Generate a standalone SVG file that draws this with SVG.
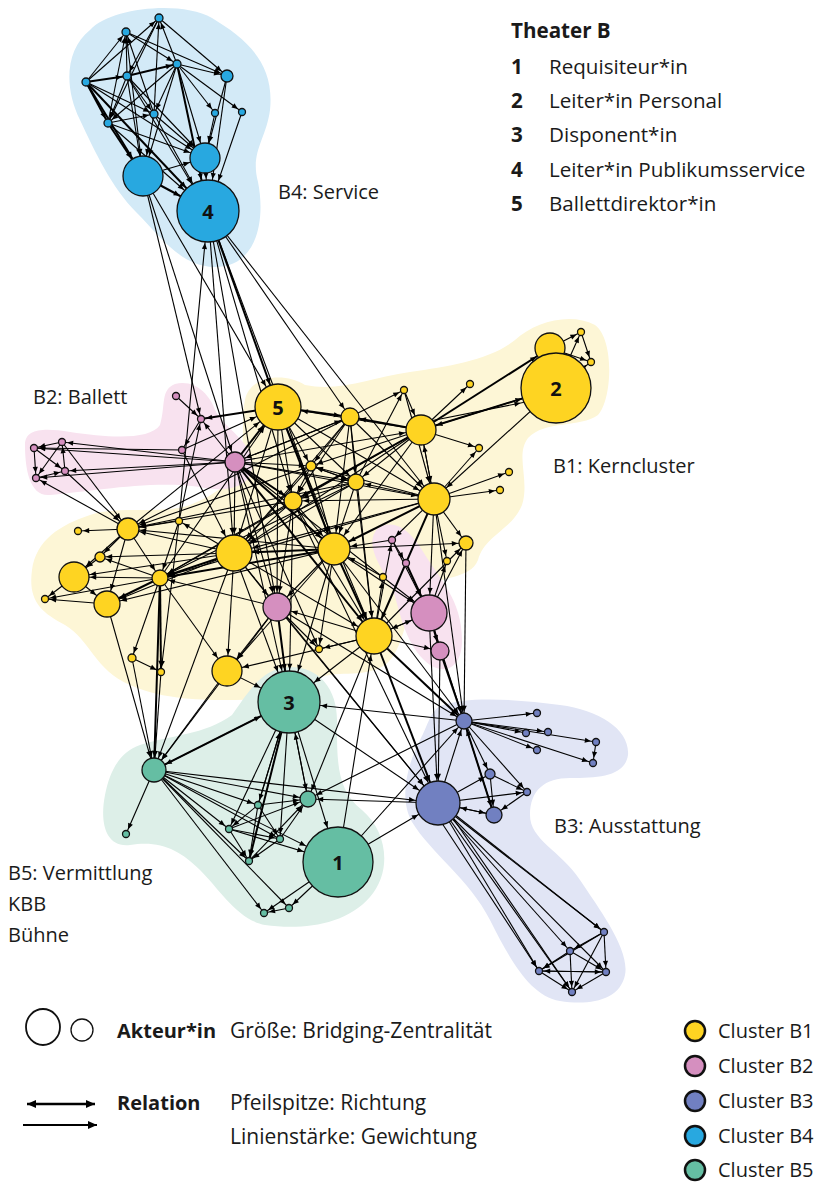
<svg xmlns="http://www.w3.org/2000/svg" width="819" height="1183" viewBox="0 0 819 1183">
<style>
text{font-family:"Open Sans","Liberation Sans",sans-serif;fill:#1a1a1a}
.lb{font-size:20px}
.lt{font-size:20.6px}
.lg{font-size:21px}
.bd{font-weight:bold}
.nl{font-size:20px;font-weight:bold;text-anchor:middle;fill:#111}
#edges line{stroke:#000;stroke-width:1.1}
#edges line.w{stroke-width:2}
circle{stroke:#111;stroke-width:1.3}
.Y{fill:#fed422}.P{fill:#d58fbf}.Q{fill:#7180c1}.B{fill:#28a8e0}.G{fill:#65bea3}
.t4{marker-end:url(#a4)}.t5{marker-end:url(#a5)}.t6{marker-end:url(#a6)}.t7{marker-end:url(#a7)}.t8{marker-end:url(#a8)}.t9{marker-end:url(#a9)}.t10{marker-end:url(#a10)}.t11{marker-end:url(#a11)}.t12{marker-end:url(#a12)}.t13{marker-end:url(#a13)}.t14{marker-end:url(#a14)}.t15{marker-end:url(#a15)}.t16{marker-end:url(#a16)}.t18{marker-end:url(#a18)}.t20{marker-end:url(#a20)}.t22{marker-end:url(#a22)}.t23{marker-end:url(#a23)}.t31{marker-end:url(#a31)}.t35{marker-end:url(#a35)}
marker{overflow:visible}
</style>
<defs>
<marker id="a4" markerUnits="userSpaceOnUse" markerWidth="1" markerHeight="1" refX="5.2" refY="0" orient="auto"><path d="M0,0L-6,-2.6L-6,2.6Z"/></marker>
<marker id="a5" markerUnits="userSpaceOnUse" markerWidth="1" markerHeight="1" refX="6.2" refY="0" orient="auto"><path d="M0,0L-6,-2.6L-6,2.6Z"/></marker>
<marker id="a6" markerUnits="userSpaceOnUse" markerWidth="1" markerHeight="1" refX="7.2" refY="0" orient="auto"><path d="M0,0L-6,-2.6L-6,2.6Z"/></marker>
<marker id="a7" markerUnits="userSpaceOnUse" markerWidth="1" markerHeight="1" refX="8.2" refY="0" orient="auto"><path d="M0,0L-6,-2.6L-6,2.6Z"/></marker>
<marker id="a8" markerUnits="userSpaceOnUse" markerWidth="1" markerHeight="1" refX="9.2" refY="0" orient="auto"><path d="M0,0L-6,-2.6L-6,2.6Z"/></marker>
<marker id="a9" markerUnits="userSpaceOnUse" markerWidth="1" markerHeight="1" refX="10.2" refY="0" orient="auto"><path d="M0,0L-6,-2.6L-6,2.6Z"/></marker>
<marker id="a10" markerUnits="userSpaceOnUse" markerWidth="1" markerHeight="1" refX="11.2" refY="0" orient="auto"><path d="M0,0L-6,-2.6L-6,2.6Z"/></marker>
<marker id="a11" markerUnits="userSpaceOnUse" markerWidth="1" markerHeight="1" refX="12.2" refY="0" orient="auto"><path d="M0,0L-6,-2.6L-6,2.6Z"/></marker>
<marker id="a12" markerUnits="userSpaceOnUse" markerWidth="1" markerHeight="1" refX="13.2" refY="0" orient="auto"><path d="M0,0L-6,-2.6L-6,2.6Z"/></marker>
<marker id="a13" markerUnits="userSpaceOnUse" markerWidth="1" markerHeight="1" refX="14.2" refY="0" orient="auto"><path d="M0,0L-6,-2.6L-6,2.6Z"/></marker>
<marker id="a14" markerUnits="userSpaceOnUse" markerWidth="1" markerHeight="1" refX="15.2" refY="0" orient="auto"><path d="M0,0L-6,-2.6L-6,2.6Z"/></marker>
<marker id="a15" markerUnits="userSpaceOnUse" markerWidth="1" markerHeight="1" refX="16.2" refY="0" orient="auto"><path d="M0,0L-6,-2.6L-6,2.6Z"/></marker>
<marker id="a16" markerUnits="userSpaceOnUse" markerWidth="1" markerHeight="1" refX="17.2" refY="0" orient="auto"><path d="M0,0L-6,-2.6L-6,2.6Z"/></marker>
<marker id="a18" markerUnits="userSpaceOnUse" markerWidth="1" markerHeight="1" refX="19.2" refY="0" orient="auto"><path d="M0,0L-6,-2.6L-6,2.6Z"/></marker>
<marker id="a20" markerUnits="userSpaceOnUse" markerWidth="1" markerHeight="1" refX="21.2" refY="0" orient="auto"><path d="M0,0L-6,-2.6L-6,2.6Z"/></marker>
<marker id="a22" markerUnits="userSpaceOnUse" markerWidth="1" markerHeight="1" refX="23.2" refY="0" orient="auto"><path d="M0,0L-6,-2.6L-6,2.6Z"/></marker>
<marker id="a23" markerUnits="userSpaceOnUse" markerWidth="1" markerHeight="1" refX="24.2" refY="0" orient="auto"><path d="M0,0L-6,-2.6L-6,2.6Z"/></marker>
<marker id="a31" markerUnits="userSpaceOnUse" markerWidth="1" markerHeight="1" refX="32.2" refY="0" orient="auto"><path d="M0,0L-6,-2.6L-6,2.6Z"/></marker>
<marker id="a35" markerUnits="userSpaceOnUse" markerWidth="1" markerHeight="1" refX="36.2" refY="0" orient="auto"><path d="M0,0L-6,-2.6L-6,2.6Z"/></marker>
<marker id="la" markerUnits="userSpaceOnUse" markerWidth="1" markerHeight="1" refX="0" refY="0" orient="auto-start-reverse"><path d="M0,0L-9,-4L-9,4Z"/></marker>
</defs>

<g id="hulls">
<path fill="#d3eaf7" d="M90,30 C110,8 180,0 212,18 C245,38 275,62 270,110 C266,140 250,152 258,182 C266,222 256,268 214,267 C180,266 160,236 136,212 C112,188 95,152 80,120 C64,88 65,50 90,30 Z"/>
<path fill="#fdf6d6" d="M245,400 C250,375 285,372 305,385 C340,392 370,378 410,372 C450,366 490,360 515,340 C535,322 570,312 595,325 C615,340 612,400 598,415 C580,428 545,420 528,438 C515,455 530,480 522,505 C512,530 485,535 478,560 C470,580 440,575 420,590 C405,610 405,650 385,665 C360,680 335,668 315,680 C290,700 260,700 235,700 C200,700 165,700 130,685 C95,670 90,640 65,625 C40,612 28,600 32,570 C36,540 60,525 90,515 C120,505 160,515 190,505 C215,495 240,480 242,450 C244,430 242,412 245,400 Z"/>
<path fill="#f8e2ef" d="M25,445 C25,428 45,428 70,432 C110,438 150,440 160,425 C166,405 160,390 175,384 C195,379 210,395 215,410 C225,430 252,440 252,465 C252,490 222,492 200,487 C150,480 90,492 50,495 C30,497 25,470 25,445 Z"/>
<path fill="#f8e2ef" d="M378,528 C395,518 410,530 422,550 C440,580 462,600 462,640 C462,672 440,676 424,660 C404,640 400,612 393,590 C384,570 362,545 378,528 Z"/>
<path fill="#e1e5f5" d="M440,706 C470,695 520,700 560,705 C600,710 630,730 628,755 C625,776 600,778 570,778 C545,778 530,790 530,815 C530,840 560,850 580,880 C600,910 630,950 625,975 C620,1000 590,1006 560,1001 C530,996 510,960 490,920 C470,880 430,852 412,822 C400,800 405,770 420,740 C428,725 430,712 440,706 Z"/>
<path fill="#ddefe8" d="M140,745 C170,735 205,735 232,715 C250,690 262,668 290,667 C320,667 337,690 337,720 C337,760 336,790 362,810 C388,832 392,872 370,897 C345,926 300,930 265,925 C238,920 220,890 200,870 C180,850 160,840 130,845 C104,848 100,820 105,795 C110,770 120,752 140,745 Z"/>
</g>

<g id="edges">
<line class="t4 w" x1="86" y1="82" x2="127" y2="76"/>
<line class="t4 w" x1="127" y1="76" x2="177" y2="64"/>
<line class="t4" x1="86" y1="82" x2="126" y2="32"/>
<line class="t4" x1="127" y1="76" x2="126" y2="32"/>
<line class="t4" x1="108" y1="123" x2="126" y2="32"/>
<line class="t4" x1="154" y1="114" x2="126" y2="32"/>
<line class="t6" x1="126" y1="32" x2="227" y2="76"/>
<line class="t4" x1="126" y1="32" x2="177" y2="64"/>
<line class="t4" x1="159" y1="18" x2="127" y2="76"/>
<line class="t4" x1="159" y1="18" x2="108" y2="123"/>
<line class="t4" x1="154" y1="114" x2="159" y2="18"/>
<line class="t4" x1="177" y1="64" x2="159" y2="18"/>
<line class="t6" x1="159" y1="18" x2="227" y2="76"/>
<line class="t4" x1="86" y1="82" x2="159" y2="18"/>
<line class="t6" x1="177" y1="64" x2="227" y2="76"/>
<line class="t4" x1="177" y1="64" x2="108" y2="123"/>
<line class="t4" x1="177" y1="64" x2="154" y2="114"/>
<line class="t4" x1="177" y1="64" x2="215" y2="113"/>
<line class="t4" x1="177" y1="64" x2="242" y2="112"/>
<line class="t15" x1="177" y1="64" x2="205" y2="158"/>
<line class="t31 w" x1="177" y1="64" x2="208" y2="211"/>
<line class="t4" x1="127" y1="76" x2="154" y2="114"/>
<line class="t4" x1="127" y1="76" x2="108" y2="123"/>
<line class="t20" x1="127" y1="76" x2="143" y2="176"/>
<line class="t15" x1="127" y1="76" x2="205" y2="158"/>
<line class="t31" x1="127" y1="76" x2="208" y2="211"/>
<line class="t4" x1="86" y1="82" x2="154" y2="114"/>
<line class="t4 w" x1="86" y1="82" x2="108" y2="123"/>
<line class="t20 w" x1="86" y1="82" x2="143" y2="176"/>
<line class="t15" x1="86" y1="82" x2="205" y2="158"/>
<line class="t31 w" x1="86" y1="82" x2="208" y2="211"/>
<line class="t4" x1="108" y1="123" x2="154" y2="114"/>
<line class="t20" x1="154" y1="114" x2="143" y2="176"/>
<line class="t15" x1="154" y1="114" x2="205" y2="158"/>
<line class="t31" x1="154" y1="114" x2="208" y2="211"/>
<line class="t20 w" x1="108" y1="123" x2="143" y2="176"/>
<line class="t31" x1="108" y1="123" x2="208" y2="211"/>
<line class="t15" x1="108" y1="123" x2="205" y2="158"/>
<line class="t15" x1="227" y1="76" x2="205" y2="158"/>
<line class="t31" x1="227" y1="76" x2="208" y2="211"/>
<line class="t31" x1="242" y1="112" x2="208" y2="211"/>
<line class="t15" x1="215" y1="113" x2="205" y2="158"/>
<line class="t20" x1="126" y1="32" x2="143" y2="176"/>
<line class="t15" x1="143" y1="176" x2="205" y2="158"/>
<line class="t31 w" x1="143" y1="176" x2="208" y2="211"/>
<line class="t31" x1="205" y1="158" x2="208" y2="211"/>
<line class="t20" x1="177" y1="64" x2="143" y2="176"/>

<line class="t10" x1="143" y1="176" x2="235" y2="462"/>
<line class="t23" x1="143" y1="176" x2="278" y2="407"/>
<line class="t31" x1="179" y1="521" x2="208" y2="211"/>
<line class="t18" x1="208" y1="211" x2="234" y2="553"/>
<line class="t14" x1="208" y1="211" x2="277" y2="607"/>
<line class="t23 w" x1="208" y1="211" x2="278" y2="407"/>
<line class="t16" x1="208" y1="211" x2="434" y2="499"/>
<line class="t9" x1="208" y1="211" x2="293" y2="501"/>
<line class="t4" x1="143" y1="176" x2="201" y2="419"/>
<line class="t16" x1="208" y1="211" x2="334" y2="549"/>
<line class="t9" x1="208" y1="211" x2="350" y2="417"/>

<line class="t4" x1="62" y1="442" x2="34" y2="448"/>
<line class="t4" x1="34" y1="448" x2="36" y2="478"/>
<line class="t4" x1="36" y1="478" x2="65" y2="471"/>
<line class="t4" x1="65" y1="471" x2="62" y2="442"/>
<line class="t4" x1="62" y1="442" x2="36" y2="478"/>
<line class="t4" x1="34" y1="448" x2="65" y2="471"/>
<line class="t4" x1="235" y1="462" x2="34" y2="448"/>
<line class="t4" x1="235" y1="462" x2="62" y2="442"/>
<line class="t4" x1="235" y1="462" x2="65" y2="471"/>
<line class="t4" x1="235" y1="462" x2="36" y2="478"/>
<line class="t4" x1="182" y1="450" x2="34" y2="448"/>
<line class="t11" x1="62" y1="442" x2="128" y2="529"/>
<line class="t4" x1="128" y1="529" x2="36" y2="478"/>
<line class="t11" x1="65" y1="471" x2="128" y2="529"/>
<line class="t4" x1="176" y1="396" x2="201" y2="419"/>
<line class="t4 w" x1="278" y1="407" x2="201" y2="419"/>
<line class="t23" x1="182" y1="450" x2="278" y2="407"/>
<line class="t4" x1="201" y1="419" x2="182" y2="450"/>
<line class="t4" x1="235" y1="462" x2="201" y2="419"/>
<line class="t23 w" x1="235" y1="462" x2="278" y2="407"/>
<line class="t4" x1="179" y1="521" x2="201" y2="419"/>
<line class="t18" x1="182" y1="450" x2="234" y2="553"/>

<line class="t9 w" x1="278" y1="407" x2="350" y2="417"/>
<line class="t5" x1="278" y1="407" x2="311" y2="466"/>
<line class="t8" x1="278" y1="407" x2="356" y2="482"/>
<line class="t9" x1="278" y1="407" x2="293" y2="501"/>
<line class="t16 w" x1="278" y1="407" x2="334" y2="549"/>
<line class="t18" x1="278" y1="407" x2="234" y2="553"/>
<line class="t18" x1="278" y1="407" x2="374" y2="636"/>
<line class="t16" x1="278" y1="407" x2="434" y2="499"/>
<line class="t23" x1="421" y1="430" x2="278" y2="407"/>
<line class="t14" x1="278" y1="407" x2="277" y2="607"/>
<line class="t23" x1="128" y1="529" x2="278" y2="407"/>
<line class="t23" x1="160" y1="578" x2="278" y2="407"/>

<line class="t9 w" x1="235" y1="462" x2="293" y2="501"/>
<line class="t16 w" x1="235" y1="462" x2="334" y2="549"/>
<line class="t18 w" x1="235" y1="462" x2="374" y2="636"/>
<line class="t8" x1="235" y1="462" x2="356" y2="482"/>
<line class="t5" x1="235" y1="462" x2="311" y2="466"/>
<line class="t16" x1="235" y1="462" x2="434" y2="499"/>
<line class="t18" x1="235" y1="462" x2="429" y2="613"/>
<line class="t18" x1="235" y1="462" x2="234" y2="553"/>
<line class="t14" x1="235" y1="462" x2="277" y2="607"/>
<line class="t9" x1="235" y1="462" x2="350" y2="417"/>
<line class="t31" x1="235" y1="462" x2="289" y2="702"/>
<line class="t15" x1="235" y1="462" x2="421" y2="430"/>
<line class="t4" x1="235" y1="462" x2="319" y2="649"/>

<line class="t4" x1="350" y1="417" x2="404" y2="390"/>
<line class="t9 w" x1="421" y1="430" x2="350" y2="417"/>
<line class="t5" x1="350" y1="417" x2="311" y2="466"/>
<line class="t8" x1="350" y1="417" x2="356" y2="482"/>
<line class="t9" x1="350" y1="417" x2="293" y2="501"/>
<line class="t16" x1="350" y1="417" x2="334" y2="549"/>
<line class="t18" x1="350" y1="417" x2="234" y2="553"/>
<line class="t16" x1="350" y1="417" x2="434" y2="499"/>
<line class="t18" x1="350" y1="417" x2="374" y2="636"/>
<line class="t11" x1="350" y1="417" x2="128" y2="529"/>
<line class="t10" x1="350" y1="417" x2="235" y2="462"/>

<line class="t15" x1="404" y1="390" x2="421" y2="430"/>
<line class="t4" x1="421" y1="430" x2="470" y2="384"/>
<line class="t4" x1="421" y1="430" x2="479" y2="448"/>
<line class="t16" x1="421" y1="430" x2="434" y2="499"/>
<line class="t15" x1="434" y1="499" x2="421" y2="430"/>
<line class="t8" x1="421" y1="430" x2="356" y2="482"/>
<line class="t5" x1="421" y1="430" x2="311" y2="466"/>
<line class="t9 w" x1="421" y1="430" x2="293" y2="501"/>
<line class="t16" x1="421" y1="430" x2="334" y2="549"/>
<line class="t18" x1="421" y1="430" x2="234" y2="553"/>
<line class="t35 w" x1="421" y1="430" x2="556" y2="388"/>
<line class="t15 w" x1="421" y1="430" x2="550" y2="348"/>
<line class="t15" x1="556" y1="388" x2="421" y2="430"/>
<line class="t35" x1="425" y1="422" x2="556" y2="396"/>
<line class="t8" x1="421" y1="430" x2="160" y2="578"/>

<line class="t4" x1="434" y1="499" x2="479" y2="448"/>
<line class="t4" x1="434" y1="499" x2="509" y2="472"/>
<line class="t4" x1="434" y1="499" x2="500" y2="490"/>
<line class="t7" x1="434" y1="499" x2="466" y2="543"/>
<line class="t16 w" x1="434" y1="499" x2="334" y2="549"/>
<line class="t8" x1="434" y1="499" x2="356" y2="482"/>
<line class="t5" x1="434" y1="499" x2="311" y2="466"/>
<line class="t9" x1="434" y1="499" x2="293" y2="501"/>
<line class="t18 w" x1="434" y1="499" x2="374" y2="636"/>
<line class="t4" x1="434" y1="499" x2="447" y2="561"/>
<line class="t4" x1="434" y1="499" x2="392" y2="540"/>
<line class="t16" x1="404" y1="390" x2="434" y2="499"/>
<line class="t18" x1="434" y1="499" x2="234" y2="553"/>
<line class="t8" x1="434" y1="499" x2="464" y2="721"/>
<line class="t18" x1="434" y1="499" x2="429" y2="613"/>
<line class="t16" x1="556" y1="388" x2="434" y2="499"/>
<line class="t8" x1="434" y1="499" x2="160" y2="578"/>

<line class="t5" x1="356" y1="482" x2="311" y2="466"/>
<line class="t8" x1="311" y1="466" x2="356" y2="482"/>
<line class="t9" x1="356" y1="482" x2="293" y2="501"/>
<line class="t16" x1="356" y1="482" x2="334" y2="549"/>
<line class="t18" x1="356" y1="482" x2="234" y2="553"/>
<line class="t18" x1="356" y1="482" x2="374" y2="636"/>
<line class="t4" x1="356" y1="482" x2="404" y2="390"/>
<line class="t11" x1="356" y1="482" x2="128" y2="529"/>
<line class="t8" x1="356" y1="482" x2="160" y2="578"/>
<line class="t9" x1="311" y1="466" x2="293" y2="501"/>
<line class="t16" x1="311" y1="466" x2="334" y2="549"/>
<line class="t18" x1="311" y1="466" x2="234" y2="553"/>
<line class="t11" x1="311" y1="466" x2="128" y2="529"/>

<line class="t16" x1="293" y1="501" x2="334" y2="549"/>
<line class="t18" x1="293" y1="501" x2="234" y2="553"/>
<line class="t18" x1="293" y1="501" x2="374" y2="636"/>
<line class="t14" x1="293" y1="501" x2="277" y2="607"/>
<line class="t8" x1="293" y1="501" x2="160" y2="578"/>
<line class="t11" x1="293" y1="501" x2="128" y2="529"/>
<line class="t31" x1="293" y1="501" x2="289" y2="702"/>
<line class="t22" x1="293" y1="501" x2="438" y2="803"/>

<line class="t18 w" x1="334" y1="549" x2="234" y2="553"/>
<line class="t18 w" x1="334" y1="549" x2="374" y2="636"/>
<line class="t14" x1="334" y1="549" x2="277" y2="607"/>
<line class="t8 w" x1="334" y1="549" x2="160" y2="578"/>
<line class="t15" x1="334" y1="549" x2="227" y2="671"/>
<line class="t31" x1="334" y1="549" x2="289" y2="702"/>
<line class="t4" x1="334" y1="549" x2="319" y2="649"/>
<line class="t18" x1="334" y1="549" x2="429" y2="613"/>
<line class="t7" x1="334" y1="549" x2="466" y2="543"/>
<line class="t11" x1="334" y1="549" x2="128" y2="529"/>
<line class="t13" x1="334" y1="549" x2="107" y2="604"/>
<line class="t8" x1="334" y1="549" x2="464" y2="721"/>
<line class="t16" x1="392" y1="540" x2="334" y2="549"/>

<line class="t14" x1="234" y1="553" x2="277" y2="607"/>
<line class="t8 w" x1="234" y1="553" x2="160" y2="578"/>
<line class="t11" x1="234" y1="553" x2="128" y2="529"/>
<line class="t15" x1="234" y1="553" x2="227" y2="671"/>
<line class="t31" x1="234" y1="553" x2="289" y2="702"/>
<line class="t18" x1="234" y1="553" x2="374" y2="636"/>
<line class="t4" x1="234" y1="553" x2="179" y2="521"/>
<line class="t15" x1="234" y1="553" x2="74" y2="577"/>
<line class="t13" x1="234" y1="553" x2="107" y2="604"/>
<line class="t5" x1="234" y1="553" x2="100" y2="557"/>
<line class="t12" x1="234" y1="553" x2="154" y2="770"/>
<line class="t22" x1="234" y1="553" x2="438" y2="803"/>

<line class="t18" x1="374" y1="636" x2="429" y2="613"/>
<line class="t18" x1="429" y1="613" x2="374" y2="636"/>
<line class="t9" x1="374" y1="636" x2="440" y2="651"/>
<line class="t4" x1="374" y1="636" x2="319" y2="649"/>
<line class="t14" x1="374" y1="636" x2="277" y2="607"/>
<line class="t31" x1="374" y1="636" x2="289" y2="702"/>
<line class="t8 w" x1="374" y1="636" x2="464" y2="721"/>
<line class="t22 w" x1="374" y1="636" x2="438" y2="803"/>
<line class="t18" x1="338" y1="862" x2="374" y2="636"/>
<line class="t8" x1="374" y1="636" x2="308" y2="799"/>
<line class="t7" x1="374" y1="636" x2="466" y2="543"/>
<line class="t4" x1="374" y1="636" x2="383" y2="577"/>
<line class="t4" x1="374" y1="636" x2="392" y2="540"/>
<line class="t15" x1="374" y1="636" x2="227" y2="671"/>

<line class="t31 w" x1="277" y1="607" x2="289" y2="702"/>
<line class="t15" x1="277" y1="607" x2="227" y2="671"/>
<line class="t4" x1="277" y1="607" x2="319" y2="649"/>
<line class="t8" x1="277" y1="607" x2="160" y2="578"/>
<line class="t8" x1="277" y1="607" x2="464" y2="721"/>
<line class="t22" x1="277" y1="607" x2="438" y2="803"/>
<line class="t12" x1="277" y1="607" x2="154" y2="770"/>

<line class="t9 w" x1="429" y1="613" x2="440" y2="651"/>
<line class="t8" x1="429" y1="613" x2="464" y2="721"/>
<line class="t7" x1="429" y1="613" x2="466" y2="543"/>
<line class="t18 w" x1="406" y1="563" x2="429" y2="613"/>
<line class="t18" x1="392" y1="540" x2="429" y2="613"/>
<line class="t4" x1="429" y1="613" x2="447" y2="561"/>
<line class="t22" x1="429" y1="613" x2="438" y2="803"/>
<line class="t8 w" x1="440" y1="651" x2="464" y2="721"/>
<line class="t22" x1="440" y1="651" x2="438" y2="803"/>
<line class="t4" x1="392" y1="540" x2="406" y2="563"/>
<line class="t8" x1="466" y1="543" x2="464" y2="721"/>
<line class="t16" x1="383" y1="577" x2="334" y2="549"/>

<line class="t4" x1="128" y1="529" x2="78" y2="531"/>
<line class="t5" x1="128" y1="529" x2="100" y2="557"/>
<line class="t15" x1="128" y1="529" x2="74" y2="577"/>
<line class="t11" x1="179" y1="521" x2="128" y2="529"/>
<line class="t8" x1="128" y1="529" x2="160" y2="578"/>
<line class="t13" x1="128" y1="529" x2="107" y2="604"/>
<line class="t8" x1="179" y1="521" x2="160" y2="578"/>
<line class="t15" x1="100" y1="557" x2="74" y2="577"/>
<line class="t4" x1="74" y1="577" x2="45" y2="599"/>
<line class="t13" x1="74" y1="577" x2="107" y2="604"/>
<line class="t4" x1="107" y1="604" x2="45" y2="599"/>
<line class="t15" x1="160" y1="578" x2="74" y2="577"/>
<line class="t13 w" x1="160" y1="578" x2="107" y2="604"/>
<line class="t5" x1="160" y1="578" x2="100" y2="557"/>
<line class="t4" x1="160" y1="578" x2="45" y2="599"/>
<line class="t4" x1="160" y1="578" x2="132" y2="658"/>
<line class="t4 w" x1="160" y1="578" x2="161" y2="672"/>
<line class="t12 w" x1="160" y1="578" x2="154" y2="770"/>
<line class="t4" x1="132" y1="658" x2="161" y2="672"/>
<line class="t12" x1="132" y1="658" x2="154" y2="770"/>
<line class="t12" x1="107" y1="604" x2="154" y2="770"/>
<line class="t12" x1="161" y1="672" x2="154" y2="770"/>
<line class="t12" x1="227" y1="671" x2="154" y2="770"/>
<line class="t15" x1="160" y1="578" x2="227" y2="671"/>
<line class="t31" x1="227" y1="671" x2="289" y2="702"/>
<line class="t4" x1="179" y1="521" x2="161" y2="672"/>

<line class="t31 w" x1="154" y1="770" x2="289" y2="702"/>
<line class="t12" x1="289" y1="702" x2="154" y2="770"/>
<line class="t4" x1="154" y1="770" x2="126" y2="834"/>
<line class="t8" x1="154" y1="770" x2="308" y2="799"/>
<line class="t4" x1="154" y1="770" x2="258" y2="805"/>
<line class="t4" x1="154" y1="770" x2="229" y2="829"/>
<line class="t4" x1="154" y1="770" x2="280" y2="839"/>
<line class="t4" x1="154" y1="770" x2="249" y2="861"/>
<line class="t35" x1="154" y1="770" x2="338" y2="862"/>
<line class="t4" x1="154" y1="770" x2="289" y2="908"/>
<line class="t4" x1="154" y1="770" x2="264" y2="913"/>
<line class="t22" x1="154" y1="770" x2="438" y2="803"/>

<line class="t8" x1="289" y1="702" x2="308" y2="799"/>
<line class="t4" x1="289" y1="702" x2="258" y2="805"/>
<line class="t4" x1="289" y1="702" x2="229" y2="829"/>
<line class="t4" x1="289" y1="702" x2="280" y2="839"/>
<line class="t4 w" x1="289" y1="702" x2="249" y2="861"/>
<line class="t31" x1="258" y1="805" x2="289" y2="702"/>
<line class="t31" x1="464" y1="721" x2="289" y2="702"/>
<line class="t35" x1="289" y1="702" x2="338" y2="862"/>
<line class="t22" x1="289" y1="702" x2="438" y2="803"/>
<line class="t31" x1="308" y1="799" x2="289" y2="702"/>

<line class="t8" x1="258" y1="805" x2="308" y2="799"/>
<line class="t8" x1="229" y1="829" x2="308" y2="799"/>
<line class="t8" x1="280" y1="839" x2="308" y2="799"/>
<line class="t8" x1="249" y1="861" x2="308" y2="799"/>
<line class="t8" x1="438" y1="803" x2="308" y2="799"/>
<line class="t8" x1="464" y1="721" x2="308" y2="799"/>
<line class="t4" x1="258" y1="805" x2="229" y2="829"/>
<line class="t4" x1="258" y1="805" x2="280" y2="839"/>
<line class="t4" x1="258" y1="805" x2="249" y2="861"/>
<line class="t4" x1="229" y1="829" x2="280" y2="839"/>
<line class="t4" x1="229" y1="829" x2="249" y2="861"/>
<line class="t4" x1="280" y1="839" x2="249" y2="861"/>
<line class="t35" x1="229" y1="829" x2="338" y2="862"/>
<line class="t4" x1="338" y1="862" x2="289" y2="908"/>
<line class="t4" x1="338" y1="862" x2="264" y2="913"/>
<line class="t4" x1="289" y1="908" x2="264" y2="913"/>
<line class="t22" x1="338" y1="862" x2="438" y2="803"/>
<line class="t8" x1="338" y1="862" x2="464" y2="721"/>

<line class="t8" x1="438" y1="803" x2="464" y2="721"/>
<line class="t5" x1="438" y1="803" x2="490" y2="774"/>
<line class="t4" x1="438" y1="803" x2="527" y2="792"/>
<line class="t8" x1="438" y1="803" x2="494" y2="815"/>
<line class="t22" x1="494" y1="815" x2="438" y2="803"/>
<line class="t4" x1="438" y1="803" x2="604" y2="932"/>
<line class="t4" x1="438" y1="803" x2="570" y2="951"/>
<line class="t4" x1="438" y1="803" x2="539" y2="971"/>
<line class="t4" x1="438" y1="803" x2="606" y2="972"/>
<line class="t4" x1="438" y1="803" x2="572" y2="992"/>
<line class="t4" x1="444" y1="806" x2="604" y2="932"/>
<line class="t4" x1="432" y1="808" x2="539" y2="971"/>
<line class="t4" x1="446" y1="808" x2="572" y2="992"/>
<line class="t4" x1="464" y1="721" x2="537" y2="713"/>
<line class="t4" x1="464" y1="721" x2="526" y2="733"/>
<line class="t4" x1="464" y1="721" x2="548" y2="732"/>
<line class="t4" x1="464" y1="721" x2="537" y2="750"/>
<line class="t4" x1="464" y1="721" x2="596" y2="742"/>
<line class="t4" x1="464" y1="721" x2="593" y2="763"/>
<line class="t5" x1="464" y1="721" x2="490" y2="774"/>
<line class="t4" x1="464" y1="721" x2="527" y2="792"/>
<line class="t8 w" x1="464" y1="721" x2="494" y2="815"/>
<line class="t8" x1="494" y1="815" x2="464" y2="721"/>
<line class="t8" x1="490" y1="774" x2="494" y2="815"/>
<line class="t4" x1="490" y1="774" x2="527" y2="792"/>
<line class="t8" x1="527" y1="792" x2="494" y2="815"/>
<line class="t4" x1="596" y1="742" x2="593" y2="763"/>
<line class="t4" x1="604" y1="932" x2="570" y2="951"/>
<line class="t4" x1="604" y1="932" x2="539" y2="971"/>
<line class="t4" x1="604" y1="932" x2="606" y2="972"/>
<line class="t4" x1="604" y1="932" x2="572" y2="992"/>
<line class="t4" x1="570" y1="951" x2="539" y2="971"/>
<line class="t4" x1="570" y1="951" x2="606" y2="972"/>
<line class="t4" x1="570" y1="951" x2="572" y2="992"/>
<line class="t4" x1="539" y1="971" x2="606" y2="972"/>
<line class="t4" x1="606" y1="972" x2="539" y2="971"/>
<line class="t4" x1="539" y1="971" x2="572" y2="992"/>
<line class="t4" x1="606" y1="972" x2="572" y2="992"/>

<line class="t4" x1="550" y1="348" x2="581" y2="332"/>
<line class="t4" x1="550" y1="348" x2="591" y2="362"/>
<line class="t4" x1="581" y1="332" x2="591" y2="362"/>
<line class="t4" x1="556" y1="388" x2="591" y2="362"/>
<line class="t4" x1="556" y1="388" x2="581" y2="332"/>
</g>

<g id="nodes">
<g id="nb3"><circle class="B" cx="159" cy="18" r="4"/></g>
<g id="nb4"><circle class="B" cx="126" cy="32" r="4"/></g>
<g id="nb5"><circle class="B" cx="177" cy="64" r="4"/></g>
<g id="nb6"><circle class="B" cx="227" cy="76" r="6"/></g>
<g id="nb7"><circle class="B" cx="86" cy="82" r="4"/></g>
<g id="nb8"><circle class="B" cx="127" cy="76" r="4"/></g>
<g id="nb9"><circle class="B" cx="154" cy="114" r="4"/></g>
<g id="nb10"><circle class="B" cx="108" cy="123" r="4"/></g>
<g id="nb11"><circle class="B" cx="215" cy="113" r="3.5"/></g>
<g id="nb12"><circle class="B" cx="242" cy="112" r="3.5"/></g>
<g id="nb2"><circle class="B" cx="205" cy="158" r="15"/></g>
<g id="nb1"><circle class="B" cx="143" cy="176" r="20"/></g>
<g id="node4"><circle class="B" cx="208" cy="211" r="31"/><text class="nl" x="208" y="219">4</text></g>

<g id="ny1"><circle class="Y" cx="550" cy="348" r="15"/></g>
<g id="node2"><circle class="Y" cx="556" cy="388" r="35"/><text class="nl" x="556" y="396">2</text></g>
<g id="ny2"><circle class="Y" cx="581" cy="332" r="3.5"/></g>
<g id="ny3"><circle class="Y" cx="591" cy="362" r="3.5"/></g>
<g id="node5"><circle class="Y" cx="278" cy="407" r="23"/><text class="nl" x="278" y="415">5</text></g>
<g id="ny4"><circle class="Y" cx="350" cy="417" r="9"/></g>
<g id="ny5"><circle class="Y" cx="421" cy="430" r="15"/></g>
<g id="ny6"><circle class="Y" cx="404" cy="390" r="3.5"/></g>
<g id="ny7"><circle class="Y" cx="470" cy="384" r="3.5"/></g>
<g id="ny8"><circle class="Y" cx="479" cy="448" r="3.5"/></g>
<g id="ny9"><circle class="Y" cx="509" cy="472" r="3.5"/></g>
<g id="ny10"><circle class="Y" cx="500" cy="490" r="3.5"/></g>
<g id="ny11"><circle class="Y" cx="434" cy="499" r="16"/></g>
<g id="ny12"><circle class="Y" cx="356" cy="482" r="8"/></g>
<g id="ny13"><circle class="Y" cx="311" cy="466" r="5"/></g>
<g id="ny14"><circle class="Y" cx="293" cy="501" r="9"/></g>
<g id="ny15"><circle class="Y" cx="466" cy="543" r="7"/></g>
<g id="ny16"><circle class="Y" cx="334" cy="549" r="16"/></g>
<g id="ny17"><circle class="Y" cx="234" cy="553" r="18"/></g>
<g id="ny18"><circle class="Y" cx="128" cy="529" r="11"/></g>
<g id="ny19"><circle class="Y" cx="78" cy="531" r="3.5"/></g>
<g id="ny20"><circle class="Y" cx="179" cy="521" r="3.5"/></g>
<g id="ny21"><circle class="Y" cx="100" cy="557" r="5"/></g>
<g id="ny22"><circle class="Y" cx="74" cy="577" r="15"/></g>
<g id="ny23"><circle class="Y" cx="45" cy="599" r="3.5"/></g>
<g id="ny24"><circle class="Y" cx="107" cy="604" r="13"/></g>
<g id="ny25"><circle class="Y" cx="160" cy="578" r="8"/></g>
<g id="ny26"><circle class="Y" cx="132" cy="658" r="4"/></g>
<g id="ny27"><circle class="Y" cx="161" cy="672" r="3.5"/></g>
<g id="ny28"><circle class="Y" cx="227" cy="671" r="15"/></g>
<g id="ny29"><circle class="Y" cx="319" cy="649" r="3.5"/></g>
<g id="ny30"><circle class="Y" cx="374" cy="636" r="18"/></g>
<g id="ny31"><circle class="Y" cx="447" cy="561" r="3.5"/></g>
<g id="ny32"><circle class="Y" cx="383" cy="577" r="3.5"/></g>

<g id="np1"><circle class="P" cx="235" cy="462" r="10"/></g>
<g id="np2"><circle class="P" cx="176" cy="396" r="3.5"/></g>
<g id="np3"><circle class="P" cx="201" cy="419" r="3.5"/></g>
<g id="np4"><circle class="P" cx="182" cy="450" r="3.5"/></g>
<g id="np5"><circle class="P" cx="34" cy="448" r="3.5"/></g>
<g id="np6"><circle class="P" cx="62" cy="442" r="3.5"/></g>
<g id="np7"><circle class="P" cx="65" cy="471" r="3.5"/></g>
<g id="np8"><circle class="P" cx="36" cy="478" r="3.5"/></g>
<g id="np9"><circle class="P" cx="277" cy="607" r="14"/></g>
<g id="np10"><circle class="P" cx="392" cy="540" r="3.5"/></g>
<g id="np11"><circle class="P" cx="406" cy="563" r="3.5"/></g>
<g id="np12"><circle class="P" cx="429" cy="613" r="18"/></g>
<g id="np13"><circle class="P" cx="440" cy="651" r="9"/></g>

<g id="nq1"><circle class="Q" cx="464" cy="721" r="8"/></g>
<g id="nq2"><circle class="Q" cx="537" cy="713" r="3.5"/></g>
<g id="nq3"><circle class="Q" cx="526" cy="733" r="3.5"/></g>
<g id="nq4"><circle class="Q" cx="548" cy="732" r="3.5"/></g>
<g id="nq5"><circle class="Q" cx="537" cy="750" r="3.5"/></g>
<g id="nq6"><circle class="Q" cx="596" cy="742" r="3.5"/></g>
<g id="nq7"><circle class="Q" cx="593" cy="763" r="3.5"/></g>
<g id="nq8"><circle class="Q" cx="490" cy="774" r="5"/></g>
<g id="nq9"><circle class="Q" cx="527" cy="792" r="3.5"/></g>
<g id="nq10"><circle class="Q" cx="494" cy="815" r="8"/></g>
<g id="nq11"><circle class="Q" cx="438" cy="803" r="22"/></g>
<g id="nq12"><circle class="Q" cx="604" cy="932" r="3.5"/></g>
<g id="nq13"><circle class="Q" cx="570" cy="951" r="3.5"/></g>
<g id="nq14"><circle class="Q" cx="539" cy="971" r="3.5"/></g>
<g id="nq15"><circle class="Q" cx="606" cy="972" r="3.5"/></g>
<g id="nq16"><circle class="Q" cx="572" cy="992" r="3.5"/></g>

<g id="node3"><circle class="G" cx="289" cy="702" r="31"/><text class="nl" x="289" y="710">3</text></g>
<g id="ng1"><circle class="G" cx="154" cy="770" r="12"/></g>
<g id="ng2"><circle class="G" cx="126" cy="834" r="3.5"/></g>
<g id="ng3"><circle class="G" cx="308" cy="799" r="8"/></g>
<g id="ng4"><circle class="G" cx="258" cy="805" r="3.5"/></g>
<g id="ng5"><circle class="G" cx="229" cy="829" r="3.5"/></g>
<g id="ng6"><circle class="G" cx="280" cy="839" r="3.5"/></g>
<g id="ng7"><circle class="G" cx="249" cy="861" r="3.5"/></g>
<g id="node1"><circle class="G" cx="338" cy="862" r="35"/><text class="nl" x="338" y="870">1</text></g>
<g id="ng8"><circle class="G" cx="289" cy="908" r="3.5"/></g>
<g id="ng9"><circle class="G" cx="264" cy="913" r="3.5"/></g>
</g>

<g id="labels">
<text class="lb" x="278" y="199">B4: Service</text>
<text class="lb" x="33" y="404">B2: Ballett</text>
<text class="lb" x="553" y="473">B1: Kerncluster</text>
<text class="lb" x="554" y="833">B3: Ausstattung</text>
<text class="lb" x="8" y="880">B5: Vermittlung</text>
<text class="lb" x="8" y="911">KBB</text>
<text class="lb" x="8" y="942">Bühne</text>
</g>

<g id="legend-top">
<text class="lt bd" x="511" y="38">Theater B</text>
<text class="lt bd" x="511" y="74">1</text><text class="lt" x="549" y="74">Requisiteur*in</text>
<text class="lt bd" x="511" y="108">2</text><text class="lt" x="549" y="108">Leiter*in Personal</text>
<text class="lt bd" x="511" y="142">3</text><text class="lt" x="549" y="142">Disponent*in</text>
<text class="lt bd" x="511" y="177">4</text><text class="lt" x="549" y="177">Leiter*in Publikumsservice</text>
<text class="lt bd" x="511" y="211">5</text><text class="lt" x="549" y="211">Ballettdirektor*in</text>
</g>

<g id="legend-bottom">
<ellipse cx="43" cy="1027" rx="17" ry="18" fill="none" stroke="#111" stroke-width="1.8"/>
<circle cx="82" cy="1030" r="11" fill="none" stroke="#111" stroke-width="1.8"/>
<text class="lb bd" x="117" y="1038">Akteur*in</text>
<text class="lg" x="230" y="1038">Größe: Bridging-Zentralität</text>
<line x1="27" y1="1104" x2="95" y2="1104" stroke="#000" stroke-width="2.5" marker-start="url(#la)" marker-end="url(#la)"/>
<line x1="23" y1="1125" x2="97" y2="1125" stroke="#000" stroke-width="1.8" marker-end="url(#la)"/>
<text class="lb bd" x="117" y="1110">Relation</text>
<text class="lg" x="230" y="1110">Pfeilspitze: Richtung</text>
<text class="lg" x="230" y="1144">Linienstärke: Gewichtung</text>
<circle class="Y" cx="695" cy="1031" r="10" style="stroke-width:2.5"/>
<circle class="P" cx="695" cy="1066" r="10" style="stroke-width:2.5"/>
<circle class="Q" cx="695" cy="1101" r="10" style="stroke-width:2.5"/>
<circle class="B" cx="695" cy="1136" r="10" style="stroke-width:2.5"/>
<circle class="G" cx="695" cy="1170" r="10" style="stroke-width:2.5"/>
<text class="lb" x="718" y="1038">Cluster B1</text>
<text class="lb" x="718" y="1073">Cluster B2</text>
<text class="lb" x="718" y="1108">Cluster B3</text>
<text class="lb" x="718" y="1143">Cluster B4</text>
<text class="lb" x="718" y="1177">Cluster B5</text>
</g>
</svg>
